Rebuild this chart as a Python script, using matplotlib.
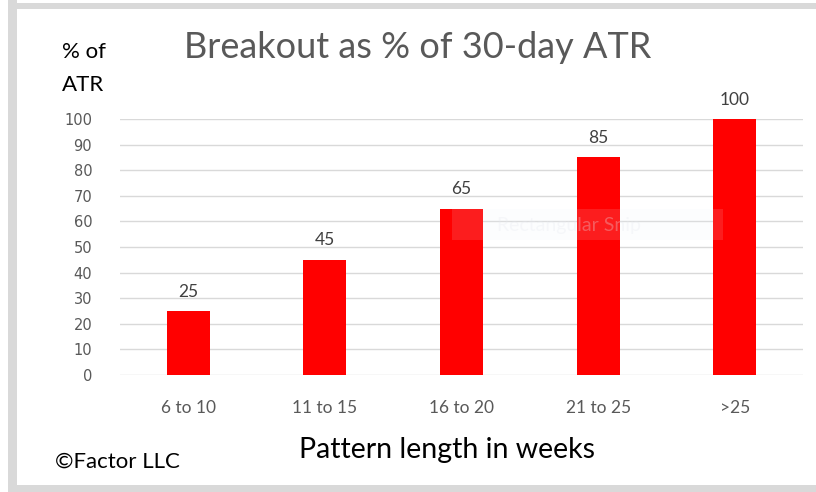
import matplotlib.pyplot as plt
from matplotlib.patches import Rectangle

# --- data ---
categories = ['6 to 10', '11 to 15', '16 to 20', '21 to 25', '>25']
values = [25, 45, 65, 85, 100]
y_ticks = [0, 10, 20, 30, 40, 50, 60, 70, 80, 90, 100]

W, H = 816, 492
fig = plt.figure(figsize=(W / 100, H / 100), dpi=100)
fig.patch.set_facecolor('white')

# gray frame of the screenshot
frame = '#d9d9d9'
fig.add_artist(Rectangle((8 / W, 0), 9 / W, 1, transform=fig.transFigure, color=frame, lw=0))
fig.add_artist(Rectangle((8 / W, 1 - 9 / H), 1, 6 / H, transform=fig.transFigure, color=frame, lw=0))
fig.add_artist(Rectangle((8 / W, 0), 1, 7 / H, transform=fig.transFigure, color=frame, lw=0))

ax = fig.add_axes([120 / W, (H - 375) / H, (803 - 120) / W, (375 - 119) / H])
x = range(len(categories))
bars = ax.bar(x, values, width=0.315, color='#ff0000', zorder=3)

ax.set_xlim(-0.5, len(categories) - 0.5)
ax.set_ylim(0, 100)
ax.set_yticks(y_ticks)
ax.grid(axis='y', color='#d9d9d9', lw=1, zorder=0)
for s in ax.spines.values():
    s.set_visible(False)
ax.tick_params(length=0)
ax.set_yticklabels([str(t) for t in y_ticks], family='DejaVu Sans', fontsize=10.5, color='#595959')
ax.tick_params(axis='y', pad=20)
ax.set_xticks(list(x))
ax.set_xticklabels(categories, family='Lato', fontsize=12.5, color='#595959')
ax.tick_params(axis='x', pad=18)

for b, v in zip(bars, values):
    ax.annotate(str(v), (b.get_x() + b.get_width() / 2, v), xytext=(0, 14),
                textcoords='offset points', ha='center', va='center',
                family='Lato', fontsize=12.5, color='#404040')

# faint screen-capture overlay
fig.add_artist(Rectangle((452 / W, 1 - 240 / H), 271 / W, 31 / H, transform=fig.transFigure,
                         facecolor='#eef2fa', alpha=0.12, lw=0, zorder=5))
fig.text(497 / W, 1 - 226 / H, 'Rectangular Snip', family='Lato', fontsize=14,
         color='#e6e9f0', alpha=0.3, ha='left', va='center', zorder=6)

fig.text(418 / W, 1 - 47 / H, 'Breakout as % of 30-day ATR', family='Lato',
         fontsize=26, color='#595959', ha='center', va='center')
fig.text(62 / W, 1 - 52 / H, '% of', family='Lato', fontsize=16, color='black', va='center')
fig.text(62 / W, 1 - 85 / H, 'ATR', family='Lato', fontsize=16, color='black', va='center')
fig.text(447 / W, 1 - 450 / H, 'Pattern length in weeks', family='Lato', fontsize=20.5,
         color='black', ha='center', va='center')
fig.text(55 / W, 1 - 462 / H, '\u00a9Factor LLC', family='Lato', fontsize=16,
         color='black', ha='left', va='center')

fig.savefig('out.png', dpi=100)
